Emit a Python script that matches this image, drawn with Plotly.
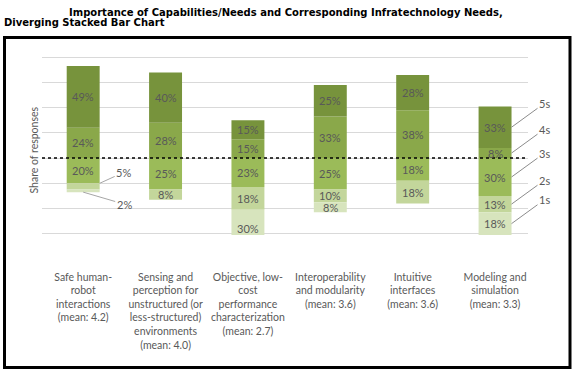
import plotly.graph_objects as go

categories = [
    "Safe human-<br>robot<br>interactions<br>(mean: 4.2)",
    "Sensing and<br>perception for<br>unstructured (or<br>less-structured)<br>environments<br>(mean: 4.0)",
    "Objective, low-<br>cost<br>performance<br>characterization<br>(mean: 2.7)",
    "Interoperability<br>and modularity<br>(mean: 3.6)",
    "Intuitive<br>interfaces<br>(mean: 3.6)",
    "Modeling and<br>simulation<br>(mean: 3.3)",
]
s5 = [49, 40, 15, 25, 28, 33]
s4 = [24, 28, 15, 33, 38, 8]
s3 = [20, 25, 23, 25, 18, 30]
s2 = [5, 8, 18, 10, 18, 13]
s1 = [2, 0, 30, 8, 0, 18]
series_names = ["5s", "4s", "3s", "2s", "1s"]
colors = {"5s": "#77933C", "4s": "#8AA84A", "3s": "#9BBB59", "2s": "#C3D69B", "1s": "#D7E4BD"}

W, H = 576, 374
L, R, T, B = 42, 48, 56, 139
PW, PH = W - L - R, H - T - B


def px_x(p):
    return (p - L) / PW


def px_y(p):
    return (H - B - p) / PH


x = list(range(len(categories)))
fig = go.Figure()
# positive side (4s nearest the line, then 5s)
fig.add_bar(x=x, y=s4, name="4s", marker_color=colors["4s"], width=0.4)
fig.add_bar(x=x, y=s5, name="5s", marker_color=colors["5s"], width=0.4)
# negative side (3s nearest the line, then 2s, then 1s)
fig.add_bar(x=x, y=[-v for v in s3], name="3s", marker_color=colors["3s"], width=0.4)
fig.add_bar(x=x, y=[-v for v in s2], name="2s", marker_color=colors["2s"], width=0.4)
fig.add_bar(x=x, y=[-v for v in s1], name="1s", marker_color=colors["1s"], width=0.4)
fig.update_traces(marker_line_width=0, hoverinfo="skip")

lab_font = dict(family="Lato, 'Open Sans', sans-serif", size=11, color="#595959")
anns = []
segs = {}
for i in x:
    top4 = s4[i]
    top5 = s4[i] + s5[i]
    b3 = -s3[i]
    b2 = b3 - s2[i]
    b1 = b2 - s1[i]
    segs[i] = {"4s": (0, top4), "5s": (top4, top5), "3s": (b3, 0), "2s": (b2, b3), "1s": (b1, b2)}
vals = {"5s": s5, "4s": s4, "3s": s3, "2s": s2, "1s": s1}
for i in x:
    for nm in series_names:
        v = vals[nm][i]
        if v == 0:
            continue
        lo, hi = segs[i][nm]
        if i == 0 and nm in ("2s", "1s"):
            continue
        anns.append(dict(x=i, y=(lo + hi) / 2, xref="x", yref="y", text=f"{v}%",
                         showarrow=False, font=lab_font))

# outside labels for small segments of the first bar
lo, hi = segs[0]["2s"]
anns.append(dict(x=0.2, y=hi, xref="x", yref="y", text=f"{s2[0]}%", showarrow=True,
                 ax=24, ay=-11, arrowhead=0, arrowwidth=1, arrowcolor="#A6A6A6",
                 font=lab_font, standoff=0))
lo, hi = segs[0]["1s"]
anns.append(dict(x=0, y=lo, xref="x", yref="y", text=f"{s1[0]}%", showarrow=True,
                 ax=41, ay=12, arrowhead=0, arrowwidth=1, arrowcolor="#A6A6A6",
                 font=lab_font, standoff=0))

# series labels at the right of the last bar
last = len(categories) - 1
for nm in series_names:
    lo, hi = segs[last][nm]
    anns.append(dict(x=last + 0.2, y=(lo + hi) / 2, xref="x", yref="y", text=nm,
                     showarrow=True, ax=33, ay=-24, arrowhead=0, arrowwidth=1,
                     arrowcolor="#8C8C8C", font=lab_font, standoff=0))

# axis title
anns.append(dict(x=px_x(33.5), y=px_y(150), xref="paper", yref="paper", text="Share of responses",
                 xanchor="center", yanchor="middle",
                 textangle=-90, showarrow=False, font=dict(lab_font, size=10.5)))

# title
title_font = dict(family="DejaVu Sans, Verdana, sans-serif", size=10, color="#000000")
anns.append(dict(x=px_x(67), y=px_y(12), xref="paper", yref="paper", xanchor="left",
                 yanchor="middle",
                 text="<b>Importance of Capabilities/Needs and Corresponding Infratechnology Needs,</b>",
                 showarrow=False, font=title_font))
anns.append(dict(x=px_x(2), y=px_y(22.5), xref="paper", yref="paper", xanchor="left",
                 yanchor="middle",
                 text="<b>Diverging Stacked Bar Chart</b>", showarrow=False, font=title_font))

shapes = [
    dict(type="line", xref="paper", yref="y", x0=0, x1=1, y0=0, y1=0,
         line=dict(color="#000000", width=1.5, dash="dot")),
    dict(type="rect", xref="paper", yref="paper", x0=px_x(4.5), x1=px_x(570), y0=px_y(37.5), y1=px_y(367.5),
         line=dict(color="#000000", width=3)),
]

fig.update_layout(
    width=W, height=H,
    margin=dict(l=L, r=R, t=T, b=B),
    barmode="relative",
    bargap=0.6,
    showlegend=False,
    plot_bgcolor="white",
    paper_bgcolor="white",
    annotations=anns,
    shapes=shapes,
    xaxis=dict(
        range=[-0.5, 5.4], tickmode="array", tickvals=x, ticktext=categories,
        showgrid=False, zeroline=False, showline=False, ticks="",
        tickfont=dict(family="Lato, 'Open Sans', sans-serif", size=10.5, color="#595959"),
        ticklabelstandoff=34, fixedrange=True,
    ),
    yaxis=dict(
        range=[-61, 81], dtick=20, tick0=0, showticklabels=False, showgrid=True,
        gridcolor="#D9D9D9", gridwidth=1, zeroline=False, showline=False, ticks="",
        fixedrange=True,
    ),
)

fig.write_html(
    "out.html",
    config={"displayModeBar": False, "staticPlot": True},
    post_script="document.body.style.margin='0';document.documentElement.style.overflow='hidden';",
)
